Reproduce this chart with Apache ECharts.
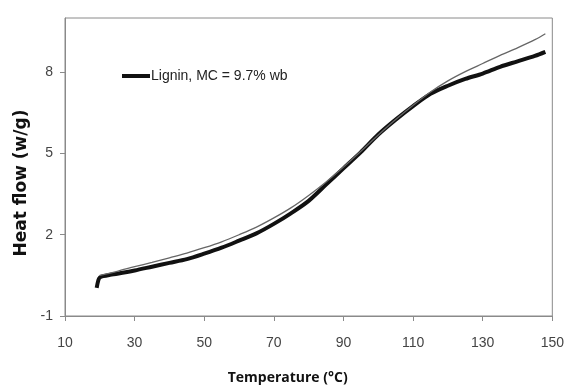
<!DOCTYPE html>
<html>
<head>
<meta charset="utf-8">
<script src="https://cdn.jsdelivr.net/npm/echarts@6/dist/echarts.min.js"></script>
<style>
  html, body { margin: 0; padding: 0; background: #fff; }
  #main { width: 567px; height: 392px; }
</style>
</head>
<body>
<div id="main"></div>
<script>
// measured DSC curve (thick) and fitted curve (thin)
var measuredT = [19.1, 19.6, 20, 21, 23, 25, 30, 35, 40, 45, 50, 55, 60, 65, 70, 75, 80, 85, 90, 95, 100, 105, 110, 115, 120, 125, 130, 135, 140, 145, 148];
var measuredHF = [0.04, 0.33, 0.42, 0.47, 0.52, 0.56, 0.68, 0.82, 0.96, 1.1, 1.3, 1.52, 1.78, 2.05, 2.4, 2.8, 3.25, 3.85, 4.45, 5.05, 5.7, 6.25, 6.75, 7.2, 7.5, 7.75, 7.95, 8.2, 8.4, 8.6, 8.75];
var fitT = [20, 25, 30, 35, 40, 45, 50, 55, 60, 65, 70, 75, 80, 85, 90, 95, 100, 105, 110, 115, 120, 125, 130, 135, 140, 145, 148];
var fitHF = [0.5, 0.65, 0.82, 0.98, 1.15, 1.32, 1.52, 1.74, 2.0, 2.28, 2.62, 3.0, 3.45, 3.95, 4.5, 5.08, 5.68, 6.25, 6.78, 7.27, 7.68, 8.02, 8.32, 8.62, 8.9, 9.2, 9.42];
var xTicks = [10, 30, 50, 70, 90, 110, 130, 150];
var yTicks = [-1, 2, 5, 8];

function pairs(xs, ys) {
    return xs.map(function (x, i) { return [x, ys[i]]; });
}

var chart = echarts.init(document.getElementById('main'));

var axisGrey = '#8a8a8a';

var option = {
    animation: false,
    backgroundColor: '#fff',
    grid: {
        left: 65,
        right: 12,
        top: 18,
        bottom: 76,
        show: true,
        borderColor: axisGrey,
        borderWidth: 1
    },
    legend: {
        data: ['Lignin, MC = 9.7% wb'],
        left: 117,
        top: 64,
        icon: 'rect',
        itemWidth: 28,
        itemHeight: 4,
        itemGap: 2,
        textStyle: {
            fontFamily: 'Arial, sans-serif',
            fontSize: 14,
            color: '#222',
            padding: [0, 0, 0, -4]
        }
    },
    xAxis: {
        type: 'value',
        min: 10,
        max: 150,
        name: 'Temperature (\u00b0C)',
        nameLocation: 'middle',
        nameGap: 55,
        nameTextStyle: {
            fontFamily: 'Open Sans',
            fontWeight: 'bold',
            fontSize: 14,
            color: '#111',
            padding: [0, 42, 0, 0]
        },
        axisLine: { onZero: false, lineStyle: { color: axisGrey } },
        axisTick: { inside: false, length: 5, customValues: xTicks, lineStyle: { color: axisGrey } },
        axisLabel: {
            customValues: xTicks,
            margin: 20,
            fontFamily: 'Arial, sans-serif',
            fontSize: 14,
            color: '#444'
        },
        splitLine: { show: false }
    },
    yAxis: {
        type: 'value',
        min: -1,
        max: 10,
        name: 'Heat flow (w/g)',
        nameLocation: 'middle',
        nameGap: 34,
        nameTextStyle: {
            fontFamily: 'DejaVu Sans',
            fontWeight: 'bold',
            fontSize: 17,
            color: '#111',
            padding: [0, 32, 0, 0]
        },
        axisLine: { show: true, onZero: false, lineStyle: { color: axisGrey } },
        axisTick: { show: true, inside: false, length: 5, customValues: yTicks, lineStyle: { color: axisGrey } },
        axisLabel: {
            customValues: yTicks,
            margin: 12,
            fontFamily: 'Arial, sans-serif',
            fontSize: 14,
            color: '#444'
        },
        splitLine: { show: false }
    },
    series: [
        {
            name: 'Lignin, MC = 9.7% wb',
            type: 'line',
            data: pairs(measuredT, measuredHF),
            smooth: 0.3,
            showSymbol: false,
            color: '#111',
            lineStyle: { width: 4, color: '#111' },
            z: 2
        },
        {
            name: 'fit',
            type: 'line',
            data: pairs(fitT, fitHF),
            smooth: 0.3,
            showSymbol: false,
            color: '#666',
            lineStyle: { width: 1.3, color: '#666' },
            z: 3
        }
    ]
};

chart.setOption(option);
</script>
</body>
</html>
